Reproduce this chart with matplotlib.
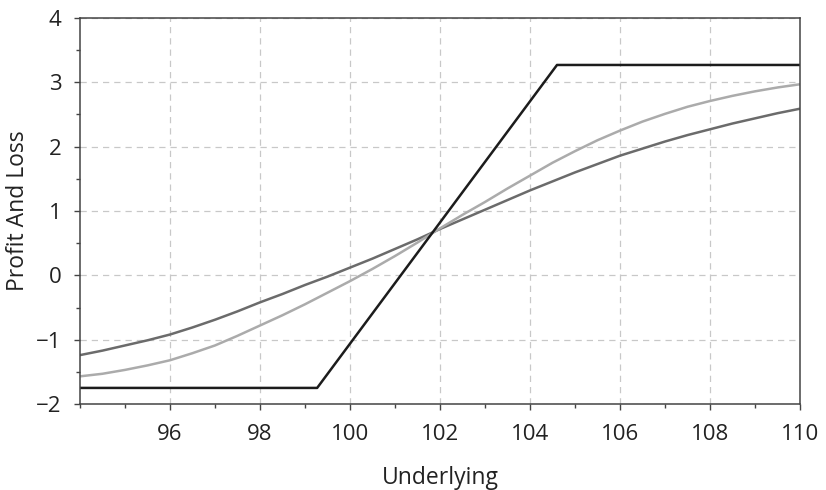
import numpy as np
import matplotlib.pyplot as plt
from matplotlib.ticker import MultipleLocator

plt.rcParams['font.family'] = ['Open Sans', 'DejaVu Sans']

# underlying grid points (every half unit)
underlying = [94, 94.5, 95, 95.5, 96, 96.5, 97, 97.5, 98, 98.5, 99, 99.5,
              100, 100.5, 101, 101.5, 102, 102.5, 103, 103.5, 104, 104.5,
              105, 105.5, 106, 106.5, 107, 107.5, 108, 108.5, 109, 109.5, 110]

# longer-dated curve (dark grey)
pnl_dark = [-1.24, -1.17, -1.09, -1.01, -0.92, -0.81, -0.69, -0.56, -0.42, -0.29,
            -0.15, -0.02, 0.12, 0.26, 0.41, 0.56, 0.72, 0.87, 1.02, 1.17, 1.32,
            1.46, 1.60, 1.73, 1.86, 1.97, 2.08, 2.18, 2.27, 2.36, 2.44, 2.52, 2.59]

# shorter-dated curve (light grey)
pnl_light = [-1.57, -1.53, -1.47, -1.40, -1.32, -1.21, -1.09, -0.94, -0.78, -0.62,
             -0.45, -0.27, -0.09, 0.10, 0.30, 0.51, 0.73, 0.94, 1.14, 1.35, 1.55,
             1.75, 1.93, 2.10, 2.25, 2.39, 2.51, 2.62, 2.71, 2.79, 2.86, 2.92, 2.97]

# payoff at expiry (black)
payoff_x = [94, 99.27, 104.6, 110]
payoff_y = [-1.75, -1.75, 3.27, 3.27]

fig = plt.figure(figsize=(8.26, 4.9), dpi=100)
ax = fig.add_axes([80/826, 86/490, 720/826, 386/490])

ax.plot(underlying, pnl_dark, color="#6b6b6b", lw=1.8, solid_capstyle="butt")
ax.plot(underlying, pnl_light, color="#ababab", lw=1.8, solid_capstyle="butt")
ax.plot(payoff_x, payoff_y, color="#1c1c1c", lw=1.8, solid_capstyle="butt")

ax.set_xlim(94, 110)
ax.set_ylim(-2, 4)
ax.xaxis.set_minor_locator(MultipleLocator(1))
ax.yaxis.set_minor_locator(MultipleLocator(0.5))
ax.set_xticks([96, 98, 100, 102, 104, 106, 108, 110])
ax.set_xticklabels(["96", "98", "100", "102", "104", "106", "108", "110"])
ax.set_yticks([-2, -1, 0, 1, 2, 3, 4])
ax.set_yticklabels(["\u22122", "\u22121", "0", "1", "2", "3", "4"])

ax.grid(True, which="major", color="#c8c8c8", linestyle=(0, (5, 4)), lw=0.9)
ax.tick_params(which="major", direction="out", length=4.5, width=1, color="#444444",
               labelsize=16, labelcolor="#222222")
ax.tick_params(axis="x", which="major", pad=10)
ax.tick_params(axis="y", which="major", pad=9)
ax.tick_params(which="minor", direction="out", length=3, width=1, color="#444444")
for s in ax.spines.values():
    s.set_color("#444444")
    s.set_linewidth(1.1)

ax.set_xlabel("Underlying", fontsize=16.5, color="#222222", labelpad=15)
ax.set_ylabel("Profit And Loss", fontsize=16.5, color="#222222", labelpad=4)

fig.savefig("out.png", dpi=100)
